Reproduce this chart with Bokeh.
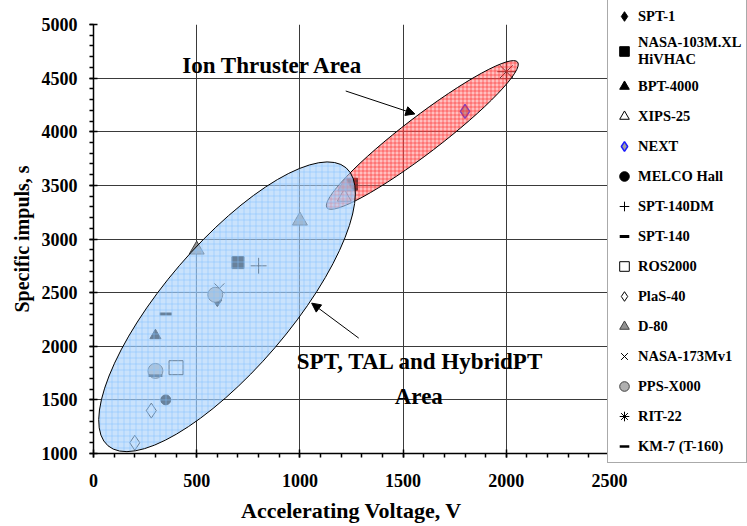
from bokeh.plotting import figure
from bokeh.models import (Legend, LegendItem, Label, Arrow, NormalHead,
                          FixedTicker, SingleIntervalTicker)
from bokeh.embed import file_html
from bokeh.resources import INLINE

# ---------------- data (accelerating voltage V, specific impulse s) ----------------
spt1_v = [600];              spt1_isp = [2430]
hivhac_v = [700, 1250];      hivhac_isp = [2780, 3510]
bpt4000_v = [300];           bpt4000_isp = [2100]
xips25_v = [1215];           xips25_isp = [3390]
next_v = [1800];             next_isp = [4190]
melco_v = [350];             melco_isp = [1500]
spt140dm_v = [800];          spt140dm_isp = [2750]
spt140_v = [350];            spt140_isp = [2300]
ros2000_v = [400];           ros2000_isp = [1800]
plas40_v = [200, 280];       plas40_isp = [1100, 1400]
d80_v = [500, 1000, 1220];   d80_isp = [2900, 3170, 3490]
nasa173_v = [610];           nasa173_isp = [2540]
ppsx000_v = [300, 590];      ppsx000_isp = [1770, 2480]
rit22_v = [2000];            rit22_isp = [4560]
km7_v = [300];               km7_isp = [1725]

series_names = ["SPT-1", "NASA-103M.XL\nHiVHAC", "BPT-4000", "XIPS-25", "NEXT",
                "MELCO Hall", "SPT-140DM", "SPT-140", "ROS2000", "PlaS-40", "D-80",
                "NASA-173Mv1", "PPS-X000", "RIT-22", "KM-7 (T-160)"]
series_x = [spt1_v, hivhac_v, bpt4000_v, xips25_v, next_v, melco_v, spt140dm_v,
            spt140_v, ros2000_v, plas40_v, d80_v, nasa173_v, ppsx000_v, rit22_v, km7_v]
series_y = [spt1_isp, hivhac_isp, bpt4000_isp, xips25_isp, next_isp, melco_isp,
            spt140dm_isp, spt140_isp, ros2000_isp, plas40_isp, d80_isp, nasa173_isp,
            ppsx000_isp, rit22_isp, km7_isp]

x_ticks_interval = 500
y_ticks_interval = 500
x_grid_ticks = [500, 1000, 1500, 2000]
y_grid_ticks = [1500, 2000, 2500, 3000, 3500, 4000, 4500]

# area ellipses (center in data units, axes in screen px, angle in deg)
ion_area = dict(x=1593, y=3970, w=240, h=37, angle=37.4)
hall_area = dict(x=647, y=2368, w=366, h=126, angle=49.4)

# ---------------- styles ----------------
styles = [
    dict(marker="diamond", size=13, fill_color="black", line_color="black"),
    dict(marker="square", size=12, fill_color="black", line_color="black"),
    dict(marker="triangle", size=11, fill_color="black", line_color="black"),
    dict(marker="triangle", size=14, fill_color=None, line_color="black"),
    dict(marker="diamond", size=14, fill_color="#a0a0a0", line_color="#1a1aff", line_width=1.5),
    dict(marker="circle", size=10, fill_color="black", line_color="black"),
    dict(marker="cross", size=16, fill_color=None, line_color="black"),
    dict(marker="dash", size=12, fill_color=None, line_color="black", line_width=3),
    dict(marker="square", size=14, fill_color=None, line_color="black"),
    dict(marker="diamond", size=15, fill_color=None, line_color="black"),
    dict(marker="triangle", size=15, fill_color="#909090", line_color="#404040"),
    dict(marker="x", size=14, fill_color=None, line_color="black"),
    dict(marker="circle", size=15, fill_color="#b0b0b0", line_color="#404040"),
    dict(marker="asterisk", size=18, fill_color=None, line_color="black"),
    dict(marker="dash", size=14, fill_color=None, line_color="black", line_width=2.5),
]

FONT = "Liberation Serif"

p = figure(frame_width=516, frame_height=429, x_range=(0, 2500), y_range=(1000, 5000),
           output_backend="svg", toolbar_location=None,
           min_border_left=93, min_border_right=0, min_border_top=24,
           min_border_bottom=73)
p.outline_line_color = None
p.background_fill_color = "white"
p.border_fill_color = "white"

renderers = []
for name, xs, ys, st in zip(series_names, series_x, series_y, styles):
    r = p.scatter(x=xs, y=ys, **st)
    renderers.append(r)

# areas drawn over the markers, semi-transparent
p.ellipse(x=[ion_area["x"]], y=[ion_area["y"]], width=[ion_area["w"]], height=[ion_area["h"]],
          angle=[ion_area["angle"]], angle_units="deg", width_units="screen",
          height_units="screen", fill_color="#ff7070", fill_alpha=0.45,
          hatch_pattern="+", hatch_color="#ff2020", hatch_alpha=0.55, hatch_scale=4,
          hatch_weight=1, line_color="black", line_width=1)
p.ellipse(x=[hall_area["x"]], y=[hall_area["y"]], width=[hall_area["w"]], height=[hall_area["h"]],
          angle=[hall_area["angle"]], angle_units="deg", width_units="screen",
          height_units="screen", fill_color="#a8d0fa", fill_alpha=0.62,
          hatch_pattern="+", hatch_color="#7fbfff", hatch_alpha=0.5, hatch_scale=6,
          hatch_weight=1, line_color="black", line_width=1)

# axes
for ax, interval in ((p.xaxis, x_ticks_interval), (p.yaxis, y_ticks_interval)):
    ax.ticker = SingleIntervalTicker(interval=interval, num_minor_ticks=5)
    ax.axis_line_color = "black"
    ax.axis_line_width = 1.5
    ax.major_tick_in = 4
    ax.major_tick_out = 4
    ax.minor_tick_in = 0
    ax.minor_tick_out = 4
    ax.major_tick_line_width = 1.5
    ax.minor_tick_line_width = 1.5
    ax.major_label_text_font = FONT
    ax.major_label_text_font_style = "bold"
    ax.major_label_text_font_size = "18px"
    ax.major_label_text_color = "black"
    ax.axis_label_text_font = FONT
    ax.axis_label_text_font_style = "bold"
    ax.axis_label_text_color = "black"

p.xaxis.axis_label = "Accelerating Voltage, V"
p.yaxis.axis_label = "Specific impuls, s"
p.xaxis.axis_label_text_font_size = "22px"
p.yaxis.axis_label_text_font_size = "20px"
p.xaxis.major_label_standoff = 16
p.yaxis.major_label_standoff = 12
p.xaxis.axis_label_standoff = 8
p.yaxis.axis_label_standoff = 6

p.xgrid.ticker = FixedTicker(ticks=x_grid_ticks)
p.ygrid.ticker = FixedTicker(ticks=y_grid_ticks)
for g in (p.xgrid, p.ygrid):
    g.grid_line_color = "#3a3a3a"
    g.grid_line_width = 1

# annotations
def lab(x, y, text, size="23px", align="left"):
    p.add_layout(Label(x=x, y=y, text=text, text_font=FONT, text_font_style="bold",
                       text_font_size=size, text_color="black", text_align=align,
                       text_baseline="alphabetic"))

lab(430, 4614, "Ion Thruster Area")
lab(985, 1855, "SPT, TAL and HybridPT")
lab(1576, 1535, "Area", align="center")

p.add_layout(Arrow(end=NormalHead(size=9, fill_color="black", line_color="black"),
                   x_start=1222, y_start=4380, x_end=1557, y_end=4166,
                   line_color="black", line_width=1))
p.add_layout(Arrow(end=NormalHead(size=9, fill_color="black", line_color="black"),
                   x_start=1285, y_start=2076, x_end=1057, y_end=2402,
                   line_color="black", line_width=1))

legend = Legend(items=[LegendItem(label=n, renderers=[r]) for n, r in zip(series_names, renderers)],
                location=(-2, -10))
legend.label_text_font = FONT
legend.label_text_font_style = "bold"
legend.label_text_font_size = "14.5px"
legend.label_text_color = "black"
legend.border_line_color = "#555555"
legend.border_line_width = 1
legend.background_fill_color = "white"
legend.background_fill_alpha = 1
legend.padding = 4
legend.spacing = 6
legend.margin = 0
legend.glyph_width = 24
legend.glyph_height = 24
legend.label_height = 24
legend.label_standoff = 2
p.add_layout(legend, "right")

open("out.html", "w").write(file_html(p, INLINE))
